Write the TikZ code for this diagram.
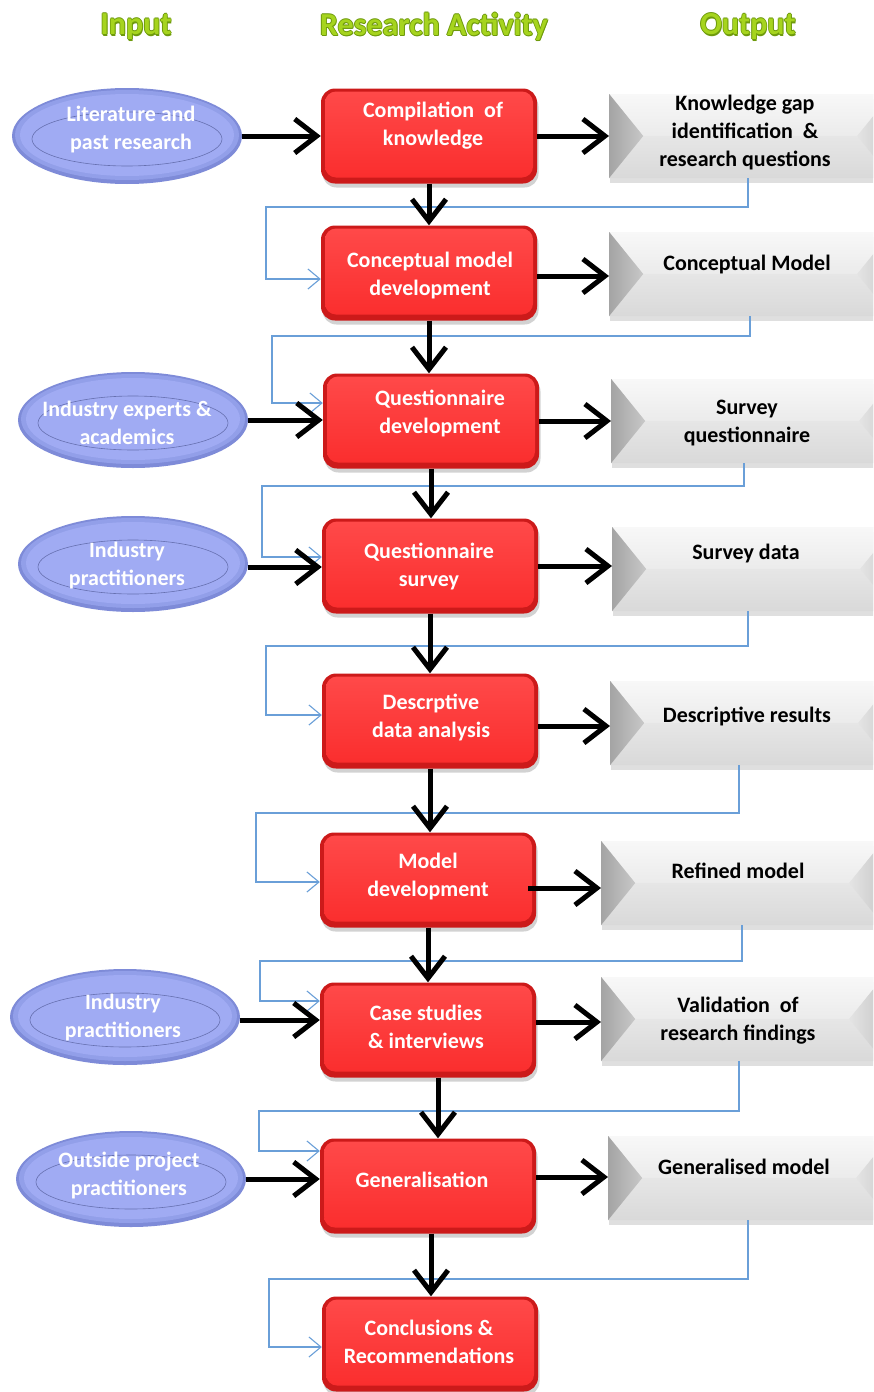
\documentclass[tikz,border=0pt]{standalone}
\usepackage{fontspec}
\setmainfont{Carlito}
\usepackage{graphicx}
\usetikzlibrary{arrows.meta,shapes.geometric,calc,shadows}

\definecolor{redrim}{HTML}{CC1A1A}
\definecolor{redtop}{HTML}{FF4A4A}
\definecolor{redbot}{HTML}{FA2C2C}
\definecolor{ellrim}{HTML}{7E8BD8}
\definecolor{ellmid}{HTML}{929FE9}
\definecolor{ellface}{HTML}{A0ABF3}
\definecolor{ellline}{HTML}{6670B0}
\definecolor{fbblue}{HTML}{6A9FD8}
\definecolor{hdrgreen}{HTML}{A6D41E}
\definecolor{hdrdark}{HTML}{6E9A0C}
\definecolor{gleft}{HTML}{C8C8C8}
\definecolor{gright}{HTML}{E4E4E4}
\definecolor{gtopA}{HTML}{F8F8F8}
\definecolor{gtopB}{HTML}{EBEBEB}
\definecolor{gbotA}{HTML}{E6E6E6}
\definecolor{gbotB}{HTML}{D9D9D9}

% green heading text with a darker rim
\newcommand\rimtext[1]{%
  \rlap{\kern-0.9pt\textcolor{hdrdark}{#1}}%
  \rlap{\kern0.9pt\textcolor{hdrdark}{#1}}%
  \rlap{\raisebox{0.9pt}{\textcolor{hdrdark}{#1}}}%
  \rlap{\raisebox{-0.9pt}{\textcolor{hdrdark}{#1}}}%
  \rlap{\kern0.7pt\raisebox{-1.5pt}{\textcolor{hdrdark}{#1}}}%
  #1}

\tikzset{
  lbl/.style={font=\bfseries\fontsize{22}{28}\selectfont, align=center, inner sep=0pt},
  whitetxt/.style={lbl, text=white},
  blacktxt/.style={lbl, text=black},
  hdr/.style={font=\bfseries\fontsize{32}{36}\selectfont, text=hdrgreen, inner sep=0pt},
  redbox/.style={rectangle, rounded corners=14pt, minimum width=216pt, minimum height=95pt,
    inner sep=0pt, fill=redrim,
    drop shadow={shadow xshift=1.5pt, shadow yshift=-4pt, opacity=0.35},
    path picture={
      \shade[top color=redtop, bottom color=redbot, rounded corners=11pt]
        ([shift={(4pt,-3pt)}]path picture bounding box.north west) rectangle
        ([shift={(-4pt,6pt)}]path picture bounding box.south east);
    }},
  inell/.style={ellipse, minimum width=230pt, minimum height=96pt, inner sep=0pt, fill=ellrim,
    path picture={
      \fill[ellmid] ([yshift=1pt]path picture bounding box.center) ellipse [x radius=112pt, y radius=45pt];
      \fill[ellface] ([yshift=1pt]path picture bounding box.center) ellipse [x radius=107pt, y radius=41pt];
      \draw[ellline, line width=0.6pt] ([yshift=-3pt]path picture bounding box.center)
        ellipse [x radius=95pt, y radius=27pt];
    }},
  greybox/.style={rectangle, minimum width=282pt, minimum height=84pt, inner sep=0pt, fill=gbotA,
    drop shadow={shadow xshift=1pt, shadow yshift=-5pt, opacity=0.25},
    path picture={
      \path (path picture bounding box.north west) coordinate (pNW)
            (path picture bounding box.north east) coordinate (pNE)
            (path picture bounding box.south west) coordinate (pSW)
            (path picture bounding box.south east) coordinate (pSE);
      \coordinate (pL) at ($(pNW)!0.5!(pSW)+(34pt,0)$);
      \coordinate (pR) at ($(pNE)!0.5!(pSE)+(-34pt,0)$);
      \shade[top color=gtopA, bottom color=gtopB] (pNW) -- (pNE) -- (pR) -- (pL) -- cycle;
      \shade[top color=gbotA, bottom color=gbotB] (pL) -- (pR) -- (pSE) -- (pSW) -- cycle;
      \shade[left color=gleft!82!black, right color=gleft] (pNW) -- (pL) -- (pSW) -- cycle;
      \shade[left color=gright, right color=gright!88!black] (pNE) -- (pR) -- (pSE) -- cycle;
    }},
  blk/.style={draw=black, line width=5pt, -{Straight Barb[length=22pt,width=34pt]}},
  fb/.style={draw=fbblue, line width=1.1pt, -{Straight Barb[length=12pt,width=20pt]}},
}

\begin{document}
\begin{tikzpicture}[x=1pt, y=-1pt]
\useasboundingbox (0,0) rectangle (873,1392);
\clip (0,0) rectangle (873,1392);
\fill[white] (0,0) rectangle (873,1392);

% column headings
\node[hdr] (h1) at (136,27) {\rimtext{Input}};
\node[hdr] (h2) at (434,27) {\rimtext{Research Activity}};
\node[hdr] (h3) at (748,27) {\rimtext{Output}};

% research activities
\node[redbox] (r1) at (429,136) {};
\node[redbox] (r2) at (429,273) {};
\node[redbox] (r3) at (431,421) {};
\node[redbox] (r4) at (430,566) {};
\node[redbox] (r5) at (430,721) {};
\node[redbox] (r6) at (428,880) {};
\node[redbox] (r7) at (428,1030) {};
\node[redbox] (r8) at (428,1186) {};
\node[redbox] (r9) at (430,1344) {};

% inputs
\node[inell] (e1) at (127,136) {};
\node[inell] (e2) at (133,420) {};
\node[inell] (e3) at (133,564) {};
\node[inell] (e4) at (125,1017) {};
\node[inell] (e5) at (131,1179) {};

% outputs
\node[greybox, anchor=west] (g1) at (609,136) {};
\node[greybox, anchor=west] (g2) at (609,274) {};
\node[greybox, anchor=west] (g3) at (611,421) {};
\node[greybox, anchor=west] (g4) at (612,569) {};
\node[greybox, anchor=west] (g5) at (610,723) {};
\node[greybox, anchor=west] (g6) at (601,883) {};
\node[greybox, anchor=west] (g7) at (601,1019) {};
\node[greybox, anchor=west] (g8) at (608,1178) {};

% feedback from each output to the next activity
\draw[fb] (g1.south -| 748,0) |- (266,207) |- ($(r2.west)+(0,6)$);
\draw[fb] (g2.south -| 750,0) |- (272,336) |- ($(r3.west)+(0,-18)$);
\draw[fb] (g3.south -| 744,0) |- (262,486) |- ($(r4.west)+(0,-9)$);
\draw[fb] (g4.south -| 748,0) |- (266,646) |- ($(r5.west)+(0,-6)$);
\draw[fb] (g5.south -| 739,0) |- (256,813) |- ($(r6.west)+(0,2)$);
\draw[fb] (g6.south -| 742,0) |- (260,961) |- ($(r7.west)+(0,-29)$);
\draw[fb] (g7.south -| 739,0) |- (259,1111) |- ($(r8.west)+(0,-35)$);
\draw[fb] (g8.south -| 748,0) |- (269,1279) |- ($(r9.west)+(0,3)$);

% main flow
\draw[blk] (r1.south) -- (r1.south |- r2.north);
\draw[blk] (r2.south) -- (r2.south |- r3.north);
\draw[blk] (r3.south) -- (r3.south |- r4.north);
\draw[blk] (r4.south) -- (r4.south |- r5.north);
\draw[blk] (r5.south) -- (r5.south |- r6.north);
\draw[blk] (r6.south) -- (r6.south |- r7.north);
\draw[blk] ($(r7.south)+(10,0)$) -- ($(r7.south |- r8.north)+(10,0)$);
\draw[blk] ($(r8.south)+(3,0)$) -- ($(r8.south |- r9.north)+(3,0)$);

% inputs into activities
\draw[blk] (e1.east) -- (e1.east -| r1.west);
\draw[blk] (e2.east) -- (e2.east -| r3.west);
\draw[blk] ($(e3.east)+(0,3)$) -- ($(e3.east -| r4.west)+(0,3)$);
\draw[blk] ($(e4.east)+(0,3)$) -- ($(e4.east -| r7.west)+(0,3)$);
\draw[blk] (e5.east) -- (e5.east -| r8.west);

% activities to outputs
\draw[blk] (r1.east) -- (r1.east -| g1.west);
\draw[blk] ($(r2.east)+(0,3)$) -- ($(r2.east -| g2.west)+(0,3)$);
\draw[blk] (r3.east) -- (r3.east -| g3.west);
\draw[blk] (r4.east) -- (r4.east -| g4.west);
\draw[blk] ($(r5.east)+(0,5)$) -- ($(r5.east -| g5.west)+(0,5)$);
\draw[blk] ($(r6.east)+(-8,8)$) -- ($(r6.east -| g6.west)+(0,8)$);
\draw[blk] ($(r7.east)+(0,-8)$) -- ($(r7.east -| g7.west)+(0,-8)$);
\draw[blk] ($(r8.east)+(0,-9)$) -- ($(r8.east -| g8.west)+(0,-9)$);

% activity labels
\node[whitetxt] (r1t) at (433,126) {Compilation~~of\\knowledge};
\node[whitetxt] (r2t) at (430,276) {Conceptual model\\development};
\node[whitetxt] (r3t) at (440,413) {Questionnaire\\development};
\node[whitetxt] (r4t) at (429,566) {Questionnaire\\survey};
\node[whitetxt] (r5t) at (431,717) {Descrptive\\data analysis};
\node[whitetxt] (r6t) at (428,876) {Model\\development};
\node[whitetxt] (r7t) at (426,1027) {Case studies\\\& interviews};
\node[whitetxt] (r8t) at (422,1180) {Generalisation};
\node[whitetxt] (r9t) at (429,1342) {Conclusions \&\\Recommendations};

% input labels
\node[whitetxt] (e1t) at (131,130) {Literature and\\past research};
\node[whitetxt] (e2t) at (127,423) {Industry experts \&\\academics};
\node[whitetxt] (e3t) at (127,566) {Industry\\practitioners};
\node[whitetxt] (e4t) at (123,1017) {Industry\\practitioners};
\node[whitetxt] (e5t) at (129,1175) {Outside project\\practitioners};

% output labels
\node[blacktxt] (g1t) at (745,133) {Knowledge gap\\identification~~\&\\research questions};
\node[blacktxt] (g2t) at (747,265) {Conceptual Model};
\node[blacktxt] (g3t) at (747,423) {Survey\\questionnaire};
\node[blacktxt] (g4t) at (746,554) {Survey data};
\node[blacktxt] (g5t) at (747,716) {Descriptive results};
\node[blacktxt] (g6t) at (738,871) {Refined model};
\node[blacktxt] (g7t) at (738,1021) {Validation~~of\\research findings};
\node[blacktxt] (g8t) at (744,1167) {Generalised model};
\end{tikzpicture}
\end{document}
